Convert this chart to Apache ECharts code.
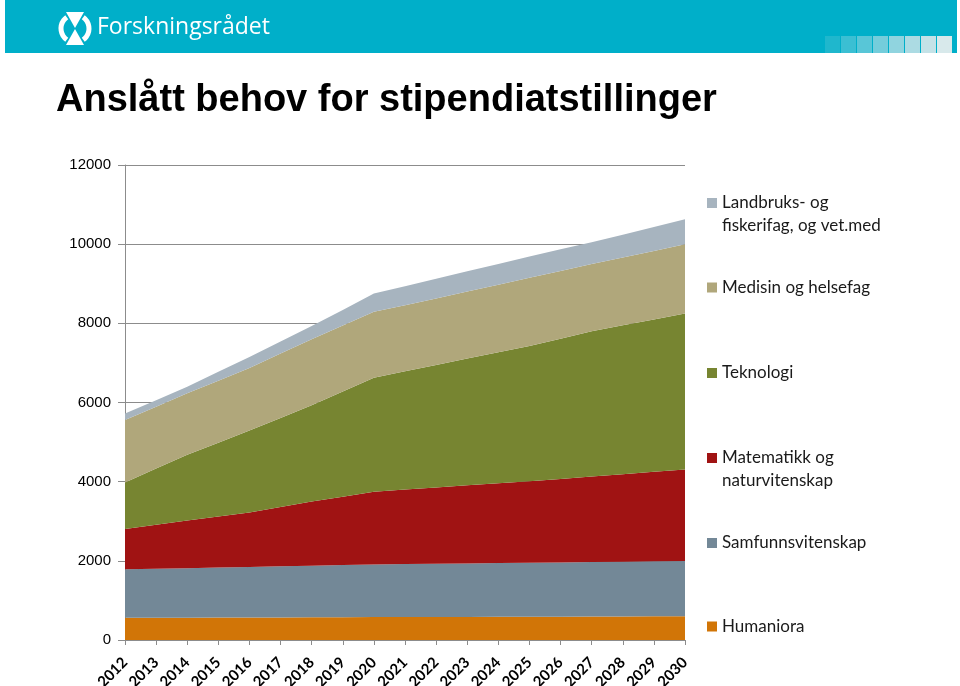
<!DOCTYPE html>
<html><head><meta charset="utf-8">
<script src="https://cdn.jsdelivr.net/npm/echarts@6/dist/echarts.min.js"></script>
<style>html,body{margin:0;padding:0;background:#fff}#c{width:960px;height:686px}</style>
</head><body><div id="c"></div>
<script>
const years = ['2012','2013','2014','2015','2016','2017','2018','2019','2020','2021','2022','2023','2024','2025','2026','2027','2028','2029','2030'];
const yTicks = [0, 2000, 4000, 6000, 8000, 10000, 12000];
const titleText = 'Anslått behov for stipendiatstillinger';
const brandText = 'Forskningsrådet';

const nameHum = 'Humaniora';
const nameSam = 'Samfunnsvitenskap';
const nameMat = 'Matematikk og naturvitenskap';
const nameTek = 'Teknologi';
const nameMed = 'Medisin og helsefag';
const nameLan = 'Landbruks- og fiskerifag, og vet.med';

const humaniora = [560,562,564,566,568,570,572,575,578,580,582,584,586,588,590,592,594,597,600];
const samfunn   = [1225,1238,1251,1264,1278,1292,1306,1319,1332,1338,1345,1351,1358,1364,1371,1378,1384,1390,1395];
const matnat    = [1018,1110,1205,1290,1374,1498,1622,1726,1835,1882,1928,1975,2016,2058,2109,2160,2212,2263,2315];
const teknologi = [1177,1420,1660,1865,2070,2250,2430,2660,2880,2990,3095,3200,3310,3420,3540,3670,3760,3850,3940];
const medisin   = [1575,1565,1555,1565,1580,1625,1670,1665,1665,1670,1680,1695,1705,1720,1715,1700,1715,1730,1750];
const landbruk  = [170,165,165,225,280,305,330,395,465,480,495,510,525,540,545,550,575,605,630];

const colors = {
  [nameHum]: '#D17507',
  [nameSam]: '#738897',
  [nameMat]: '#A01313',
  [nameTek]: '#778531',
  [nameMed]: '#B0A77B',
  [nameLan]: '#A7B4BF'
};

const stackOrder = [
  [nameHum, humaniora],
  [nameSam, samfunn],
  [nameMat, matnat],
  [nameTek, teknologi],
  [nameMed, medisin],
  [nameLan, landbruk]
];

const series = stackOrder.map(([n, d]) => ({
  name: n, type: 'line', stack: 'total', data: d,
  symbol: 'none', smooth: false,
  lineStyle: { width: 0, color: colors[n] },
  itemStyle: { color: colors[n] },
  areaStyle: { color: colors[n], opacity: 1 },
  emphasis: { disabled: true }
}));

// legend entries: [name, display text, top, two lines]
const legendLayout = [
  [nameLan, 'Landbruks- og\nfiskerifag, og vet.med', 191.5, true],
  [nameMed, 'Medisin og helsefag', 276, false],
  [nameTek, 'Teknologi', 361.5, false],
  [nameMat, 'Matematikk og\nnaturvitenskap', 446.5, true],
  [nameSam, 'Samfunnsvitenskap', 531.5, false],
  [nameHum, 'Humaniora', 615, false]
];
const legendFont = { fontFamily: 'Lato', fontSize: 17, color: '#1a1a1a', lineHeight: 23 };
const legends = legendLayout.map(([n, txt, top, two]) => ({
  data: [n], left: 707, top: top, padding: 0, orient: 'vertical',
  itemWidth: 10, itemHeight: two ? 33 : 10, itemGap: 0,
  icon: two ? 'path://M0,0L10,0L10,10L0,10Z M0,33L10,33' : 'rect',
  itemStyle: { borderWidth: 0 },
  selectedMode: false,
  formatter: () => txt,
  textStyle: legendFont
}));

// header decorative squares
const sqColors = ['#1fb7cd','#3bbfd3','#58c6d7','#74cddb','#90d4df','#acdbe3','#c4e2e7','#d8e9eb'];
const headerGraphics = [
  { type: 'rect', shape: { x: 5, y: 0, width: 952, height: 53 }, style: { fill: '#00AFC9' }, silent: true }
];
sqColors.forEach((c, i) => {
  headerGraphics.push({ type: 'rect', shape: { x: 825 + i * 16, y: 36, width: 15, height: 17 }, style: { fill: c }, silent: true });
});
// logo icon
headerGraphics.push(
  { type: 'polygon', shape: { points: [[66,12],[84,12],[75,28]] }, style: { fill: '#fff' }, silent: true },
  { type: 'polygon', shape: { points: [[66,45],[84,45],[75,29]] }, style: { fill: '#fff' }, silent: true },
  { type: 'arc', shape: { cx: 75, cy: 28.5, r: 14, startAngle: Math.PI * 0.7, endAngle: Math.PI * 1.3, clockwise: true }, style: { stroke: '#fff', lineWidth: 5, fill: null }, silent: true },
  { type: 'arc', shape: { cx: 75, cy: 28.5, r: 14, startAngle: -Math.PI * 0.3, endAngle: Math.PI * 0.3, clockwise: true }, style: { stroke: '#fff', lineWidth: 5, fill: null }, silent: true },
  { type: 'text', left: 97, top: 16, style: { text: brandText, fill: '#fff', font: '23px "Open Sans"' }, silent: true }
);

const chart = echarts.init(document.getElementById('c'), null, { renderer: 'canvas' });
chart.setOption({
  animation: false,
  backgroundColor: '#fff',
  title: {
    text: titleText, left: 56, top: 82, padding: 0,
    textStyle: { fontFamily: 'Liberation Sans', fontWeight: 'bold', fontSize: 38, color: '#000' }
  },
  graphic: headerGraphics,
  legend: legends,
  grid: { left: 125, right: 275, top: 165, bottom: 46, containLabel: false, outerBoundsMode: 'none' },
  xAxis: {
    type: 'category', data: years, boundaryGap: false,
    axisLine: { lineStyle: { color: '#8c8c8c', width: 1 } },
    axisTick: { show: true, length: 5, interval: 0, lineStyle: { color: '#8c8c8c' } },
    axisLabel: { interval: 0, rotate: 45, margin: 20, fontFamily: 'Lato', fontWeight: 'bold', fontSize: 15, color: '#000' },
    splitLine: { show: false }
  },
  yAxis: {
    type: 'value', min: yTicks[0], max: yTicks[yTicks.length - 1], interval: 2000,
    axisLine: { show: true, lineStyle: { color: '#8c8c8c', width: 1 } },
    axisTick: { show: true, length: 7, lineStyle: { color: '#8c8c8c' } },
    axisLabel: { margin: 14, fontFamily: 'Liberation Sans', fontSize: 15, color: '#000', formatter: v => String(v) },
    splitLine: { show: true, lineStyle: { color: '#8c8c8c', width: 1 } }
  },
  series: series
});
</script>
</body></html>
